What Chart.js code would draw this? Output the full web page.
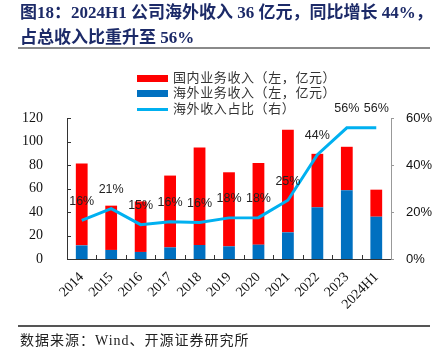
<!DOCTYPE html>
<html>
<head>
<meta charset="utf-8">
<script src="https://cdn.jsdelivr.net/npm/chart.js@4.4.1/dist/chart.umd.min.js"></script>
<style>
  body { margin: 0; background: #fff; }
  #wrap { position: relative; width: 446px; height: 352px; overflow: hidden; }
  #c { position: absolute; left: 0; top: 0; }
  #title { position: absolute; left: 20px; top: 0; font: bold 17px "Liberation Serif", "Noto Sans CJK SC"; line-height: 25px; color: #1c2a68; white-space: nowrap; }
  .rule { position: absolute; left: 18px; width: 412px; }
  #legend { position: absolute; left: 137px; top: 69px; font: 13px "Noto Sans CJK SC"; color: #333; letter-spacing: 0.6px; }
  #legend .row { height: 15.3px; line-height: 15.3px; white-space: nowrap; }
  #legend .sw { display: inline-block; width: 31px; margin-right: 5px; vertical-align: middle; }
  #source { position: absolute; left: 20px; top: 329px; font: 14px "Liberation Serif", "Noto Sans CJK SC"; color: #222; letter-spacing: 1px; white-space: nowrap; }
</style>
</head>
<body>
<div id="wrap">
  <canvas id="c" width="446" height="352"></canvas>
  <div id="title">图18：2024H1 公司海外收入 36 亿元，同比增长 44%，<br>占总收入比重升至 56%</div>
  <div class="rule" style="top:47px;height:2px;background:#8a8a8a"></div>
  <div id="legend"></div>
  <div class="rule" style="top:325px;height:1.5px;background:#555"></div>
  <div id="source">数据来源：Wind、开源证券研究所</div>
</div>
<script>
const years = ['2014', '2015', '2016', '2017', '2018', '2019', '2020', '2021', '2022', '2023', '2024H1'];
// 海外业务收入（亿元）
const overseas = [11.6, 7.7, 6.0, 9.9, 11.9, 10.8, 12.2, 22.7, 44.0, 58.5, 36.0];
// 国内业务收入（亿元）
const domestic = [69.6, 37.7, 43.0, 61.1, 82.9, 63.0, 69.6, 87.3, 45.5, 37.0, 23.0];
// 海外收入占比（%）
const overseasShare = [16.4, 21.4, 14.6, 15.8, 15.5, 17.5, 17.6, 25.0, 44.4, 55.8, 55.8];

const leftTicks = [0, 20, 40, 60, 80, 100, 120];
const rightTicks = [0, 20, 40, 60];

// 图例（HTML）
const legendItems = [
    { text: '国内业务收入（左，亿元）', color: '#ff0000', h: 7 },
    { text: '海外业务收入（左，亿元）', color: '#0070c0', h: 7 },
    { text: '海外收入占比（右）', color: '#00b0f0', h: 3 }
];
const legendEl = document.getElementById('legend');
legendItems.forEach(item => {
    const row = document.createElement('div');
    row.className = 'row';
    const sw = document.createElement('span');
    sw.className = 'sw';
    sw.style.height = item.h + 'px';
    sw.style.background = item.color;
    row.appendChild(sw);
    row.appendChild(document.createTextNode(item.text));
    legendEl.appendChild(row);
});

// 内侧刻度线 + 折线数据标签
const extras = {
    id: 'extras',
    afterDatasetsDraw(chart) {
        const ctx = chart.ctx;
        const x = chart.scales.x;
        const y = chart.scales.y;
        ctx.save();
        ctx.strokeStyle = '#333';
        ctx.lineWidth = 1;
        ctx.beginPath();
        y.ticks.forEach((t, i) => {
            const py = Math.round(y.getPixelForTick(i)) + 0.5;
            ctx.moveTo(y.right, py);
            ctx.lineTo(y.right + 4, py);
        });
        const n = years.length;
        for (let i = 0; i < n - 1; i++) {
            const px = Math.round((x.getPixelForTick(i) + x.getPixelForTick(i + 1)) / 2) + 0.5;
            ctx.moveTo(px, x.top);
            ctx.lineTo(px, x.top - 4);
        }
        ctx.stroke();

        const meta = chart.getDatasetMeta(2);
        ctx.fillStyle = '#222';
        ctx.font = '12.5px "Liberation Sans", Arial';
        ctx.textAlign = 'center';
        ctx.textBaseline = 'middle';
        meta.data.forEach((pt, i) => {
            ctx.fillText(Math.round(overseasShare[i]) + '%', pt.x, pt.y - 19);
        });
        ctx.restore();
    }
};

new Chart(document.getElementById('c'), {
    type: 'bar',
    data: {
        labels: years,
        datasets: [
            {
                label: '海外业务收入（左，亿元）',
                data: overseas,
                backgroundColor: '#0070c0',
                stack: 's',
                yAxisID: 'y',
                categoryPercentage: 1,
                barPercentage: 0.4,
                order: 2
            },
            {
                label: '国内业务收入（左，亿元）',
                data: domestic,
                backgroundColor: '#ff0000',
                stack: 's',
                yAxisID: 'y',
                categoryPercentage: 1,
                barPercentage: 0.4,
                order: 2
            },
            {
                type: 'line',
                label: '海外收入占比（右）',
                data: overseasShare,
                borderColor: '#00b0f0',
                borderWidth: 3,
                pointRadius: 0,
                tension: 0,
                fill: false,
                yAxisID: 'y1',
                order: 1
            }
        ]
    },
    options: {
        responsive: false,
        animation: false,
        layout: { padding: { top: 118, left: 0, right: 0, bottom: 0 } },
        plugins: {
            legend: { display: false },
            tooltip: { enabled: false }
        },
        scales: {
            x: {
                stacked: true,
                afterFit: s => { s.height = 93; },
                grid: { display: false },
                border: { display: true, color: '#333', width: 1 },
                ticks: {
                    minRotation: 45,
                    maxRotation: 45,
                    padding: 2,
                    color: '#111',
                    font: { family: '"Liberation Serif"', size: 14 }
                }
            },
            y: {
                stacked: true,
                position: 'left',
                min: 0,
                max: 120,
                afterFit: s => { s.width = 67; },
                afterBuildTicks: s => { s.ticks = leftTicks.map(v => ({ value: v })); },
                grid: { display: false },
                border: { display: true, color: '#333', width: 1 },
                ticks: {
                    padding: 16,
                    color: '#111',
                    font: { family: '"Liberation Serif"', size: 14 }
                }
            },
            y1: {
                position: 'right',
                min: 0,
                max: 60,
                afterFit: s => { s.width = 55; },
                afterBuildTicks: s => { s.ticks = rightTicks.map(v => ({ value: v })); },
                grid: { drawOnChartArea: false, tickLength: 3, color: '#999' },
                border: { display: true, color: '#999', width: 1 },
                ticks: {
                    padding: 12,
                    color: '#111',
                    font: { family: '"Liberation Sans"', size: 13 },
                    callback: v => v + '%'
                }
            }
        }
    },
    plugins: [extras]
});
</script>
</body>
</html>
